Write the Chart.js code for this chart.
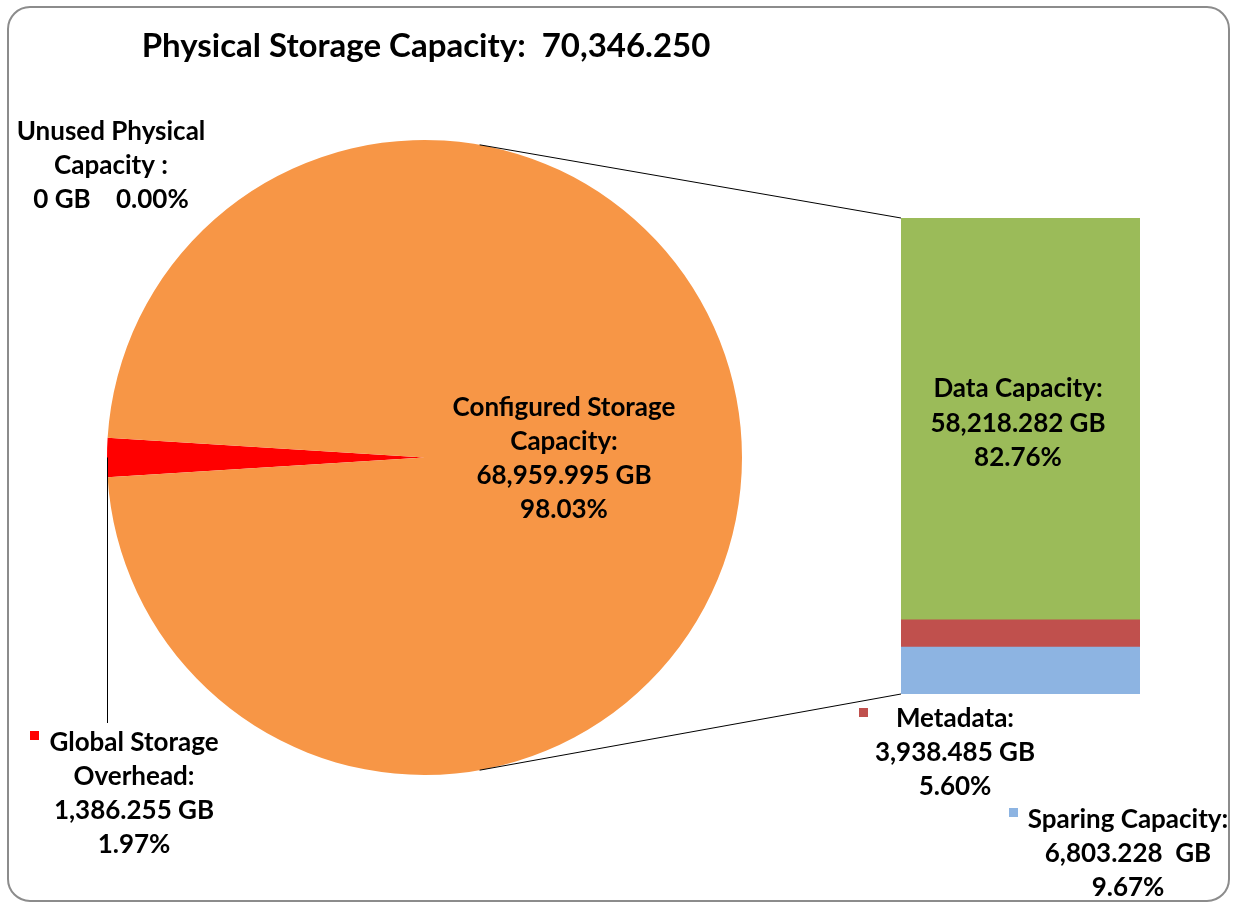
<!DOCTYPE html>
<html>
<head>
<meta charset="utf-8">
<script src="https://cdn.jsdelivr.net/npm/chart.js@4.4.1/dist/chart.umd.min.js"></script>
<style>
    html, body { margin: 0; padding: 0; background: #ffffff; }
    #marco { position: relative; width: 1233px; height: 904px; }
    #marco canvas { position: absolute; left: 0; top: 0; }
</style>
</head>
<body>
<div id="marco">
    <canvas id="graficaPastel" width="1233" height="904"></canvas>
    <canvas id="graficaBarra" width="1233" height="904"></canvas>
</div>
<script>
// pie: physical storage split
const pieLabels = ['Global Storage Overhead', 'Configured Storage Capacity', 'Unused Physical Capacity'];
const pieValues = [1386.255, 68959.995, 0];

// bar: configured storage split (bottom to top)
const barLabels = ['Sparing Capacity', 'Metadata', 'Data Capacity'];
const barValues = [6803.228, 3938.485, 58218.282];

const physicalTotal = pieValues.reduce((a, b) => a + b, 0);
const configuredTotal = barValues.reduce((a, b) => a + b, 0);

const FONT = '"Lato", "Open Sans", sans-serif';
const LABEL_SIZE = 26;

function gb(v) {
    return v.toLocaleString('en-US', { minimumFractionDigits: 3, maximumFractionDigits: 3 });
}

function pct(v) {
    return (v / physicalTotal * 100).toFixed(2) + '%';
}

function textLines(ctx, x, y, lines, step) {
    ctx.font = 'bold ' + LABEL_SIZE + 'px ' + FONT;
    ctx.fillStyle = '#000000';
    ctx.textAlign = 'center';
    ctx.textBaseline = 'middle';
    lines.forEach(function (t, i) {
        ctx.fillText(t, x, y + i * step);
    });
}

function square(ctx, x, y, color) {
    ctx.fillStyle = color;
    ctx.fillRect(x, y, 9, 9);
}

const overheadAngle = pieValues[0] / physicalTotal * 360;

const pie = new Chart(document.getElementById('graficaPastel'), {
    type: 'pie',
    data: {
        labels: pieLabels,
        datasets: [{
            data: pieValues,
            backgroundColor: ['#FF0000', '#F79646', '#4F81BD'],
            borderWidth: 0
        }]
    },
    options: {
        responsive: false,
        animation: false,
        rotation: 270 - overheadAngle / 2,
        layout: { padding: { left: 107, right: 491, top: 140, bottom: 129 } },
        plugins: { legend: { display: false }, tooltip: { enabled: false } }
    }
});

const overlay = {
    id: 'overlay',
    afterDraw: function (chart) {
        const ctx = chart.ctx;
        const arc = pie.getDatasetMeta(0).data[1];
        const cx = arc.x, cy = arc.y, r = arc.outerRadius;
        const top = chart.getDatasetMeta(2).data[0];
        const bottom = chart.getDatasetMeta(0).data[0];
        const barLeft = top.x - top.width / 2;

        ctx.save();

        // frame
        ctx.strokeStyle = '#8c8c8c';
        ctx.lineWidth = 2;
        ctx.beginPath();
        ctx.roundRect(8, 7, 1221, 894, 22);
        ctx.stroke();

        // connectors pie -> bar
        const a = 80 * Math.PI / 180;
        ctx.strokeStyle = '#000000';
        ctx.lineWidth = 1;
        ctx.beginPath();
        ctx.moveTo(cx + r * Math.cos(a), cy - r * Math.sin(a));
        ctx.lineTo(barLeft, top.y);
        ctx.moveTo(cx + r * Math.cos(a), cy + r * Math.sin(a));
        ctx.lineTo(barLeft, bottom.base);
        // leader for overhead slice
        ctx.moveTo(cx - r + 0.5, cy);
        ctx.lineTo(cx - r + 0.5, 723);
        ctx.stroke();

        // title
        ctx.font = 'bold 33px ' + FONT;
        ctx.fillStyle = '#000000';
        ctx.textAlign = 'center';
        ctx.textBaseline = 'middle';
        ctx.fillText('Physical Storage Capacity:  ' + gb(physicalTotal), 426, 46);

        // pie labels
        textLines(ctx, 111, 132, ['Unused Physical', 'Capacity :', gb(pieValues[2]).replace('.000', '') + ' GB    ' + pct(pieValues[2])], 34);
        textLines(ctx, 564, 408, ['Configured Storage', 'Capacity:', gb(pieValues[1]) + ' GB', pct(pieValues[1])], 34);
        square(ctx, 30, 731, '#FF0000');
        textLines(ctx, 134, 743, ['Global Storage', 'Overhead:', gb(pieValues[0]) + ' GB', pct(pieValues[0])], 34);

        // bar labels
        textLines(ctx, 1018, 389, ['Data Capacity:', gb(barValues[2]) + ' GB', pct(barValues[2])], 34.5);
        square(ctx, 859, 708, '#C0504D');
        textLines(ctx, 955, 719, ['Metadata:', gb(barValues[1]) + ' GB', pct(barValues[1])], 34);
        square(ctx, 1009, 808, '#8DB4E2');
        textLines(ctx, 1128, 820, ['Sparing Capacity:', gb(barValues[0]) + '  GB', pct(barValues[0])], 34);

        ctx.restore();
    }
};

new Chart(document.getElementById('graficaBarra'), {
    type: 'bar',
    data: {
        labels: [''],
        datasets: [
            { label: barLabels[0], data: [barValues[0]], backgroundColor: '#8DB4E2' },
            { label: barLabels[1], data: [barValues[1]], backgroundColor: '#C0504D' },
            { label: barLabels[2], data: [barValues[2]], backgroundColor: '#9BBB59' }
        ]
    },
    options: {
        responsive: false,
        animation: false,
        layout: { padding: { left: 901, right: 93, top: 218, bottom: 210 } },
        datasets: { bar: { barPercentage: 1, categoryPercentage: 1, borderWidth: 0 } },
        scales: {
            x: { stacked: true, display: false },
            y: { stacked: true, display: false, min: 0, max: configuredTotal }
        },
        plugins: { legend: { display: false }, tooltip: { enabled: false } }
    },
    plugins: [overlay]
});
</script>
</body>
</html>
